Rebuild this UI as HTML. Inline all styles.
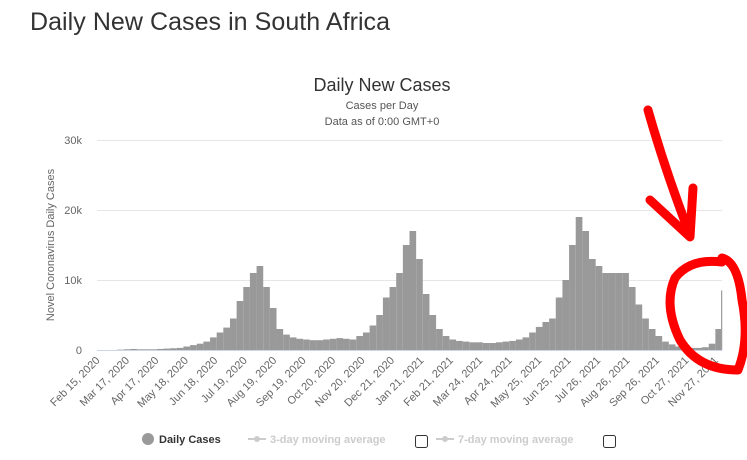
<!DOCTYPE html>
<html><head><meta charset="utf-8"><style>
body{margin:0;background:#fff;width:747px;height:455px;overflow:hidden;font-family:"Liberation Sans",sans-serif}
</style></head><body>
<svg width="747" height="455" xmlns="http://www.w3.org/2000/svg" font-family="Liberation Sans, sans-serif">
<text x="30" y="30" font-size="25" fill="#333" textLength="360">Daily New Cases in South Africa</text>
<text x="382" y="91" font-size="18" fill="#333" text-anchor="middle">Daily New Cases</text>
<text x="382" y="109" font-size="11" fill="#555" text-anchor="middle">Cases per Day</text>
<text x="382" y="125" font-size="11" fill="#555" text-anchor="middle">Data as of 0:00 GMT+0</text>
<text transform="translate(54,245) rotate(-90)" font-size="11" fill="#666" text-anchor="middle">Novel Coronavirus Daily Cases</text>
<g id="grid"></g><g id="bars"></g><g id="xlabels"></g>
<line x1="97" y1="350.5" x2="722" y2="350.5" stroke="#ccd6eb"/>
<g font-size="11" font-weight="bold">
<circle cx="148" cy="439" r="6" fill="#999"/>
<text x="159" y="443" fill="#333">Daily Cases</text>
<line x1="248" y1="439" x2="266" y2="439" stroke="#ccc" stroke-width="2"/><circle cx="257" cy="439" r="3" fill="#ccc"/>
<text x="270" y="443" fill="#ccc">3-day moving average</text>
<rect x="415.5" y="435.5" width="12" height="12" rx="2" fill="#fff" stroke="#333"/>
<line x1="436" y1="439" x2="454" y2="439" stroke="#ccc" stroke-width="2"/><circle cx="445" cy="439" r="3" fill="#ccc"/>
<text x="458" y="443" fill="#ccc">7-day moving average</text>
<rect x="603.5" y="435.5" width="12" height="12" rx="2" fill="#fff" stroke="#333"/>
</g>
<g fill="none" stroke="#f00" stroke-width="9" stroke-linecap="round" stroke-linejoin="round">
<path d="M648,110 Q665,170 690,235"/>
<path d="M650,200 L690,237 L693,188"/>
<path d="M722,262 Q690,258 675,278 Q663,305 680,340 Q698,370 738,370 Q750,340 742,300 Q738,262 722,258"/>
</g>
</svg>
<script>
const yTicks=[0,10000,20000,30000];
const yTickLabels=["0","10k","20k","30k"];
const xTickLabels=["Feb 15, 2020","Mar 17, 2020","Apr 17, 2020","May 18, 2020","Jun 18, 2020","Jul 19, 2020","Aug 19, 2020","Sep 19, 2020","Oct 20, 2020","Nov 20, 2020","Dec 21, 2020","Jan 21, 2021","Feb 21, 2021","Mar 24, 2021","Apr 24, 2021","May 25, 2021","Jun 25, 2021","Jul 26, 2021","Aug 26, 2021","Sep 26, 2021","Oct 27, 2021","Nov 27, 2021"];
// weekly average daily cases (k), starting Feb 15 2020
const weeklyCases=[0,0,0,0.05,0.1,0.15,0.1,0.1,0.1,0.15,0.2,0.25,0.3,0.5,0.7,0.9,1.2,1.8,2.5,3.2,4.5,7,9,11,12,9,6,3,2.2,1.8,1.6,1.5,1.4,1.4,1.5,1.6,1.7,1.6,1.5,2.0,2.5,3.5,5,7.5,9,11,15,17,13,8,5,3,2,1.5,1.3,1.2,1.1,1.1,1.0,1.0,1.1,1.2,1.3,1.5,1.8,2.5,3.3,4,4.5,7.5,10,15,19,17,13,12,11,11,11,11,9,6.5,4.5,3,2,1.2,0.8,0.5,0.4,0.3,0.3,0.4,0.9,3];
const lastDayCases=8.5;
const totalDays=658;
const X0=97,X1=722,Y0=350,YTOP=140;
const xs=d=>X0+(X1-X0)*d/totalDays;
const ys=v=>Y0-(Y0-YTOP)*v/30000;
const NS="http://www.w3.org/2000/svg";
function mk(t,a){const e=document.createElementNS(NS,t);for(const k in a)e.setAttribute(k,a[k]);return e;}
const grid=document.getElementById('grid');
yTicks.forEach((v,i)=>{
 if(v>0){const l=mk('line',{x1:X0,x2:X1,y1:ys(v)+.5,y2:ys(v)+.5,stroke:'#e6e6e6'});
 
 grid.appendChild(l);}
 const t=mk('text',{x:82,y:ys(v)+4,'font-size':11,fill:'#666','text-anchor':'end'});t.textContent=yTickLabels[i];
 
 grid.appendChild(t);
});
const bars=document.getElementById('bars');
weeklyCases.forEach((v,i)=>{
 const x=xs(i*7),w=xs(Math.min(i*7+7,totalDays-1))-x;
 const r=mk('rect',{x:x,y:ys(v*1000),width:Math.max(w,0.5),height:Y0-ys(v*1000),fill:'#999'});
 
 bars.appendChild(r);
});
const lb=mk('rect',{x:xs(totalDays-1),y:ys(lastDayCases*1000),width:1.2,height:Y0-ys(lastDayCases*1000),fill:'#999'});

bars.appendChild(lb);
const xl=document.getElementById('xlabels');
xTickLabels.forEach((s,i)=>{
 const x=xs(i*31+0.5);
 const t=mk('text',{transform:`translate(${x+3},${Y0+11}) rotate(-45)`,'font-size':11,fill:'#666','text-anchor':'end'});
 t.textContent=s;
 
 xl.appendChild(t);
});
</script>
</body></html>
